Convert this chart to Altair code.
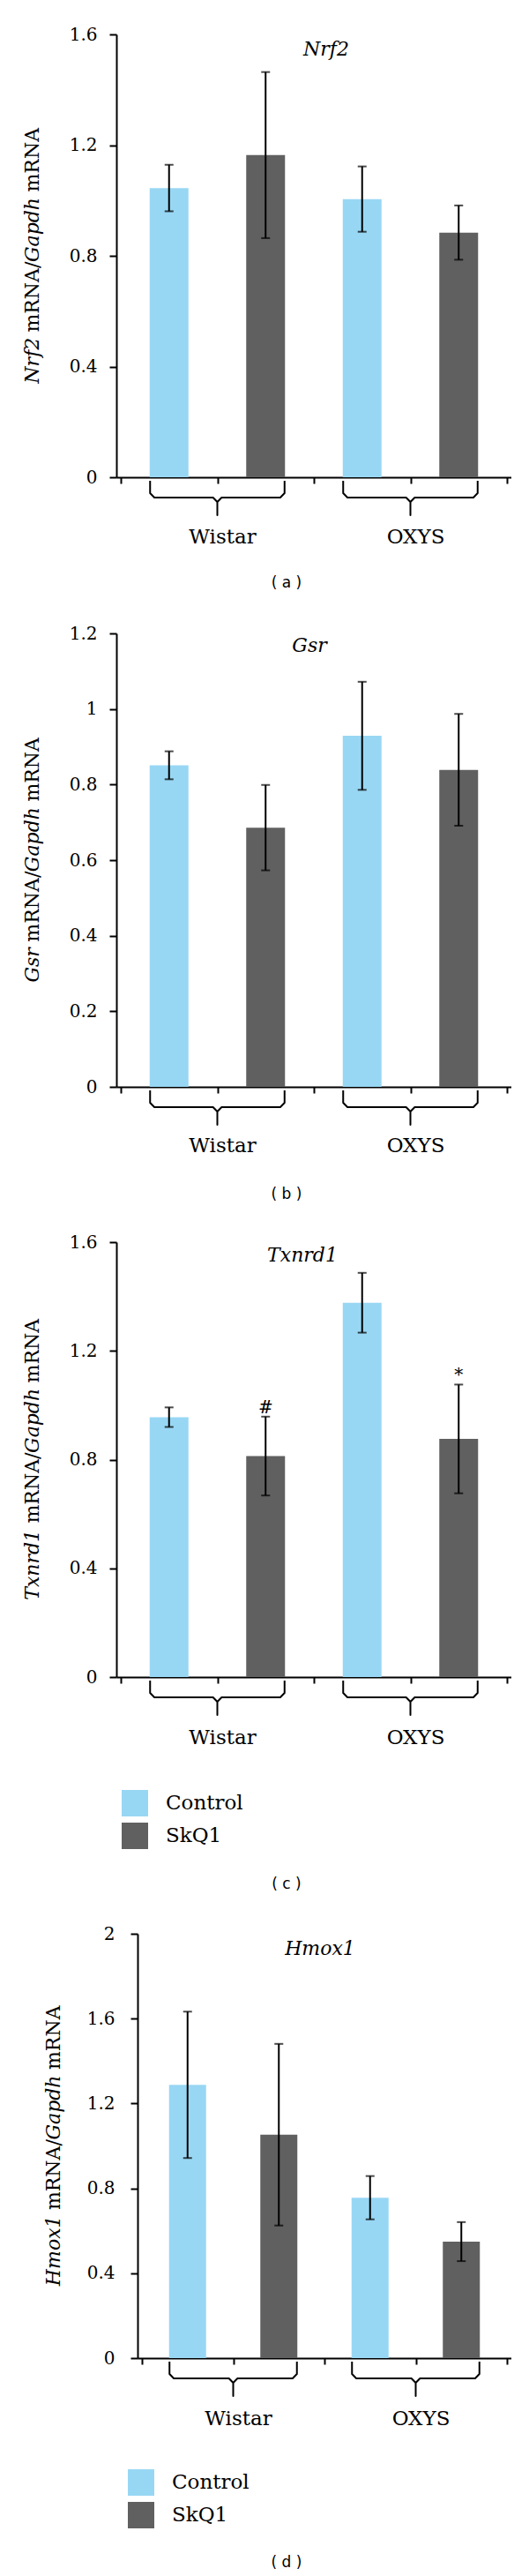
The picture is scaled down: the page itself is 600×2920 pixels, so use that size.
import altair as alt
import pandas as pd

# ---------------- data ----------------
strains = ["Wistar", "OXYS"]
treatments = ["Control", "SkQ1"]
genes = ["Nrf2", "Gsr", "Txnrd1", "Hmox1"]
tags = ["( a )", "( b )", "( c )", "( d )"]

# bar order: Wistar-Control, Wistar-SkQ1, OXYS-Control, OXYS-SkQ1
nrf2_mean = [1.045, 1.164, 1.005, 0.884]
nrf2_err = [0.084, 0.300, 0.118, 0.098]
gsr_mean = [0.851, 0.686, 0.929, 0.839]
gsr_err = [0.037, 0.113, 0.143, 0.148]
txnrd1_mean = [0.956, 0.813, 1.377, 0.876]
txnrd1_err = [0.036, 0.145, 0.110, 0.200]
hmox1_mean = [1.288, 1.053, 0.756, 0.549]
hmox1_err = [0.345, 0.428, 0.102, 0.092]
no_sig = ["", "", "", ""]
txnrd1_sig = ["", "#", "", "*"]

y_max = [1.6, 1.2, 1.6, 2.0]
y_ticks = [
    [0, 0.4, 0.8, 1.2, 1.6],
    [0, 0.2, 0.4, 0.6, 0.8, 1.0, 1.2],
    [0, 0.4, 0.8, 1.2, 1.6],
    [0, 0.4, 0.8, 1.2, 1.6, 2.0],
]

# ---------------- style / layout ----------------
SERIF = "DejaVu Serif"
SANS = "DejaVu Sans"
BLUE = "#98D7F4"
GRAY = "#606060"
W = 448
H = [502, 514, 493, 481]
GAPS = [177, 176, 291]
X0 = [0, 0, 0, 24]
BAR = [44, 44, 44, 42]
TITLE_POS = [(238, 17), (219, 14), (211, 15), (231, 17)]
GROUP_DY = [68, 67, 69, 69]
TAG_POS = [(193, 622), (193, 636), (193, 728), (193, 713)]
LEGEND_POS = [None, None, (6, 621), (13, 607)]
LABEL_PAD = [14, 14, 14, 18]
BR_TOP, BR_MID, BR_BOT, BR_R = 4, 23, 43, 5
YT_SIZE = 22
YT_X = -95

# approximate DejaVu Serif advance widths (em) for laying out the mixed-style y title
CW = {" ": 0.318, "/": 0.337, "m": 0.948, "R": 0.771, "N": 0.838, "A": 0.722,
      "a": 0.596, "p": 0.641, "d": 0.641, "h": 0.644, "G": 0.776, "r": 0.478,
      "f": 0.368, "2": 0.636, "1": 0.636, "x": 0.564, "n": 0.644, "T": 0.685,
      "s": 0.513, "o": 0.602, "H": 0.842}


def twidth(s, size):
    return sum(CW.get(ch, 0.6) for ch in s) * size


def panel(i, means, errs, sig):
    h = H[i]
    x0 = X0[i]
    ymax = y_max[i]
    rows = []
    for s_i, s in enumerate(strains):
        for t_i, t in enumerate(treatments):
            k = 2 * s_i + t_i
            rows.append(dict(strain=s, treatment=t, pos=k + 0.5, mean=means[k],
                             lo=means[k] - errs[k], hi=means[k] + errs[k], sig=sig[k]))
    df = pd.DataFrame(rows)

    xs = alt.Scale(domain=[0, 4], range=[x0, W], nice=False, zero=False)
    ys = alt.Scale(domain=[0, ymax], nice=False, zero=True)
    xaxis = alt.Axis(values=[0, 1, 2, 3, 4], labels=False, title=None, grid=False,
                     tickSize=7, tickWidth=2, domainWidth=2, tickColor="black",
                     domainColor="black")
    yaxis = alt.Axis(values=y_ticks[i], format="~g", grid=False, tickSize=8, tickWidth=2,
                     domainWidth=2, tickColor="black", domainColor="black",
                     labelFont=SERIF, labelFontSize=20, labelColor="black",
                     labelPadding=LABEL_PAD[i], offset=-x0, title=None)

    def X(f):
        return alt.X(f, scale=xs, axis=xaxis)

    def Y(f):
        return alt.Y(f, scale=ys, axis=yaxis)

    if LEGEND_POS[i]:
        lx, ly = LEGEND_POS[i]
        legend = alt.Legend(orient="none", legendX=lx, legendY=ly, title=None,
                            symbolType="square", symbolSize=900, symbolStrokeWidth=0,
                            labelFont=SERIF, labelFontSize=23, labelColor="black",
                            labelOffset=20, rowPadding=7, padding=0, symbolOpacity=1)
    else:
        legend = None
    color = alt.Color("treatment:N", scale=alt.Scale(domain=treatments, range=[BLUE, GRAY]),
                      legend=legend)

    base = alt.Chart(df)
    bars = base.mark_bar(size=BAR[i]).encode(x=X("pos:Q"), y=Y("mean:Q"), color=color)
    rule = base.mark_rule(color="black", strokeWidth=2).encode(
        x=X("pos:Q"), y=Y("lo:Q"), y2="hi:Q")
    cap_lo = base.mark_tick(color="black", orient="horizontal", size=10, thickness=2).encode(
        x=X("pos:Q"), y=Y("lo:Q"))
    cap_hi = base.mark_tick(color="black", orient="horizontal", size=10, thickness=2).encode(
        x=X("pos:Q"), y=Y("hi:Q"))
    sig_t = base.mark_text(font=SERIF, fontSize=20, baseline="alphabetic", dy=-4,
                           color="black").encode(x=X("pos:Q"), y=Y("hi:Q"), text="sig:N")

    # braces under each strain group
    unit = (W - x0) / 4.0
    hb = BAR[i] / 2.0 / unit
    rx = BR_R / unit
    py = ymax / h
    pts = []
    for s_i, s in enumerate(strains):
        c = 2 * s_i + 1
        L = c - 0.5 - hb
        R = c + 0.5 + hb
        seq = [(L, BR_TOP), (L, BR_MID - BR_R), (L + rx, BR_MID), (c - rx, BR_MID),
               (c, BR_MID + BR_R), (c, BR_BOT), (c, BR_MID + BR_R), (c + rx, BR_MID),
               (R - rx, BR_MID), (R, BR_MID - BR_R), (R, BR_TOP)]
        for n, (bx, bp) in enumerate(seq):
            pts.append(dict(strain=s, seq=n, bx=bx, by=-bp * py))
    brace = alt.Chart(pd.DataFrame(pts)).mark_line(color="black", strokeWidth=2,
                                                    strokeJoin="round").encode(
        x=X("bx:Q"), y=Y("by:Q"), detail="strain:N", order="seq:Q")

    gdf = pd.DataFrame(dict(strain=strains, gpos=[1, 3]))
    glabels = alt.Chart(gdf).mark_text(font=SERIF, fontSize=23, dx=6, color="black",
                                       baseline="middle").encode(
        x=X("gpos:Q"), y=alt.value(h + GROUP_DY[i]), text="strain:N")

    tx, ty = TITLE_POS[i]
    gtitle = alt.Chart(pd.DataFrame(dict(t=[genes[i]]))).mark_text(
        font=SERIF, fontStyle="italic", fontSize=22, color="black", baseline="middle").encode(
        x=alt.value(tx), y=alt.value(ty), text="t:N")

    gx, gy = TAG_POS[i]
    tag = alt.Chart(pd.DataFrame(dict(t=[tags[i]]))).mark_text(
        font=SANS, fontSize=17, color="black", baseline="middle").encode(
        x=alt.value(gx), y=alt.value(gy), text="t:N")

    # y-axis title with italic gene names, as rotated text pieces (gap = leading space)
    pieces = [(genes[i], "italic", 0), ("mRNA/", "normal", 1), ("Gapdh", "italic", 0),
              ("mRNA", "normal", 1)]
    sp = twidth(" ", YT_SIZE)
    total = sum(twidth(p, YT_SIZE) + g * sp for p, _, g in pieces)
    start = h / 2 + total / 2
    ytitle_layers = []
    for p, style, g in pieces:
        start -= g * sp
        ytitle_layers.append(
            alt.Chart(pd.DataFrame(dict(t=[p]))).mark_text(
                font=SERIF, fontStyle=style, fontSize=YT_SIZE, color="black", angle=270,
                align="left", baseline="middle").encode(
                x=alt.value(x0 + YT_X), y=alt.value(start), text="t:N"))
        start -= twidth(p, YT_SIZE)

    return alt.layer(bars, rule, cap_lo, cap_hi, sig_t, brace, glabels, gtitle, tag,
                     *ytitle_layers).properties(width=W, height=h)


def spacer(gap):
    return alt.Chart(pd.DataFrame(dict(v=[0]))).mark_point(opacity=0).encode(
        x=alt.value(0), y=alt.value(0)).properties(width=W, height=gap)


p0 = panel(0, nrf2_mean, nrf2_err, no_sig)
p1 = panel(1, gsr_mean, gsr_err, no_sig)
p2 = panel(2, txnrd1_mean, txnrd1_err, txnrd1_sig)
p3 = panel(3, hmox1_mean, hmox1_err, no_sig)

chart = alt.vconcat(
    p0, spacer(GAPS[0]), p1, spacer(GAPS[1]), p2, spacer(GAPS[2]), p3,
    spacing=0, bounds="flush"
).resolve_scale(color="independent").resolve_legend(color="independent").properties(
    padding={"top": 21, "left": 17, "right": 0, "bottom": 0}
).configure_view(stroke=None)

chart.save("out.html", embed_options={"renderer": "svg", "actions": False})
